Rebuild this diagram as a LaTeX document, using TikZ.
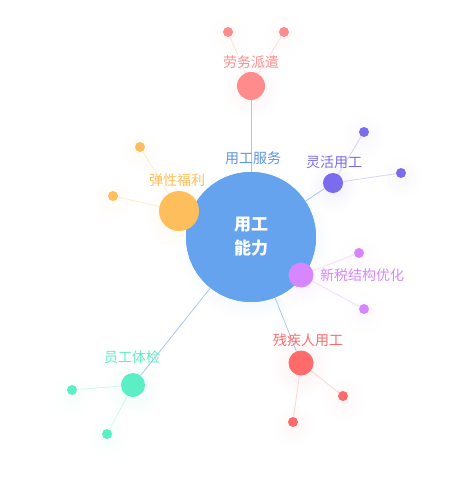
\documentclass[tikz,border=0pt]{standalone}
\usepackage{fontspec}
\newfontfamily\cjk{Noto Sans CJK SC}
\usetikzlibrary{backgrounds}

\definecolor{hubblue}{HTML}{66A3EE}
\definecolor{hubtext}{HTML}{5B93E6}
\definecolor{edgeblue}{HTML}{A9C6F3}
\definecolor{cpai}{HTML}{FF8C8C}
\definecolor{cling}{HTML}{7B6CEF}
\definecolor{cfuli}{HTML}{FFBE5C}
\definecolor{cshui}{HTML}{D687FF}
\definecolor{ccan}{HTML}{FF6B6B}
\definecolor{cjian}{HTML}{5CEEC4}

\tikzset{
  hub/.style={circle, fill=hubblue, minimum size=130pt, inner sep=0pt, text=white,
    font=\cjk\bfseries\fontsize{17}{24}\selectfont, align=center},
  leaf/.style={circle, fill=#1, minimum size=24pt, inner sep=0pt},
  twig/.style={circle, fill=#1, minimum size=10pt, inner sep=0pt},
  lbl/.style={text=#1, font=\cjk\fontsize{14}{16}\selectfont, inner sep=1pt},
  spoke/.style={draw=edgeblue, line width=0.8pt},
  sprig/.style={draw=#1!28, line width=0.9pt},
}

\begin{document}
\begin{tikzpicture}[x=1pt, y=-1pt]
\useasboundingbox (0,0) rectangle (473,490);

% main nodes
\node[hub] (hub) at (251,237) {用工\\能力};
\node[lbl=hubtext] (lhub) at (253,158) {用工服务};

\node[leaf=cpai, minimum size=28pt] (pai) at (251,86) {};
\node[lbl=cpai] (lpai) at (251,62) {劳务派遣};
\node[twig=cpai] (pai1) at (228,32) {};
\node[twig=cpai] (pai2) at (284,32) {};

\node[leaf=cling, minimum size=20pt] (ling) at (333,183) {};
\node[lbl=cling] (lling) at (334,162) {灵活用工};
\node[twig=cling] (ling1) at (364,132) {};
\node[twig=cling] (ling2) at (401,173) {};

\node[leaf=cfuli, minimum size=40pt] (fuli) at (179,211) {};
\node[lbl=cfuli] (lfuli) at (177,180) {弹性福利};
\node[twig=cfuli] (fuli1) at (140,147) {};
\node[twig=cfuli] (fuli2) at (113,196) {};

\node[leaf=cshui, minimum size=25pt] (shui) at (301,275) {};
\node[lbl=cshui] (lshui) at (362,275) {新税结构优化};
\node[twig=cshui] (shui1) at (359,253) {};
\node[twig=cshui] (shui2) at (364,309) {};

\node[leaf=ccan, minimum size=25pt] (can) at (301,363) {};
\node[lbl=ccan] (lcan) at (308,340) {残疾人用工};
\node[twig=ccan] (can1) at (343,396) {};
\node[twig=ccan] (can2) at (293,422) {};

\node[leaf=cjian, minimum size=24pt] (jian) at (133,385) {};
\node[lbl=cjian] (ljian) at (132,357) {员工体检};
\node[twig=cjian] (jian1) at (72,390) {};
\node[twig=cjian] (jian2) at (107,434) {};

\begin{scope}[on background layer]
% soft halos
\shade[inner color=hubblue!25, outer color=white] (254,244) circle (78pt);
\foreach \n/\c/\r in {pai/cpai/30, ling/cling/26, fuli/cfuli/36, shui/cshui/28,
                      can/ccan/30, jian/cjian/30} {
  \shade[inner color=\c!10, outer color=white] ([yshift=-4pt]\n.center) circle (\r pt);
}
\foreach \n/\c in {pai1/cpai, pai2/cpai, ling1/cling, ling2/cling, fuli1/cfuli, fuli2/cfuli,
                   shui1/cshui, shui2/cshui, can1/ccan, can2/ccan, jian1/cjian, jian2/cjian} {
  \shade[inner color=\c!5, outer color=white] ([yshift=-4pt]\n.center) circle (22pt);
}
\fill[hubblue] (hub.center) circle (65pt);
% spokes
\foreach \n in {pai, ling, fuli, shui, can, jian}
  \draw[spoke] (hub) -- (\n);
% sprigs
\draw[sprig=cpai] (pai) -- (pai1);
\draw[sprig=cpai] (pai) -- (pai2);
\draw[sprig=cling] (ling) -- (ling1);
\draw[sprig=cling] (ling) -- (ling2);
\draw[sprig=cfuli] (fuli) -- (fuli1);
\draw[sprig=cfuli] (fuli) -- (fuli2);
\draw[sprig=cshui] (shui) -- (shui1);
\draw[sprig=cshui] (shui) -- (shui2);
\draw[sprig=ccan] (can) -- (can1);
\draw[sprig=ccan] (can) -- (can2);
\draw[sprig=cjian] (jian) -- (jian1);
\draw[sprig=cjian] (jian) -- (jian2);
\end{scope}
\end{tikzpicture}
\end{document}
